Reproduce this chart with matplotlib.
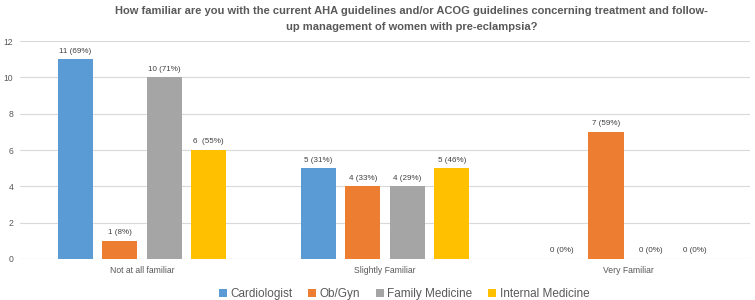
import numpy as np
import matplotlib
matplotlib.use("Agg")
import matplotlib.pyplot as plt

plt.rcParams['font.family'] = ['Liberation Sans', 'DejaVu Sans']

categories = ["Not at all familiar", "Slightly Familiar", "Very Familiar"]
series = ["Cardiologist", "Ob/Gyn", "Family Medicine", "Internal Medicine"]
colors = ["#5B9BD5", "#ED7D31", "#A5A5A5", "#FFC000"]
cardiologist = [11, 5, 0]
obgyn = [1, 4, 7]
family = [10, 4, 0]
internal = [6, 5, 0]
labels = [
    ["11 (69%)", "5 (31%)", "0 (0%)"],
    ["1 (8%)", "4 (33%)", "7 (59%)"],
    ["10 (71%)", "4 (29%)", "0 (0%)"],
    ["6  (55%)", "5 (46%)", "0 (0%)"],
]
values = [cardiologist, obgyn, family, internal]

fig = plt.figure(figsize=(7.55, 3.0), dpi=100)
ax = fig.add_axes([0.027, 0.137, 0.966, 0.726])

x = np.arange(len(categories))
step = 0.183
width = 0.145
for i, (vals, name, col) in enumerate(zip(values, series, colors)):
    pos = x + (i - 1.5) * step
    ax.bar(pos, vals, width=width, color=col, label=name, zorder=3)
    for p, v, t in zip(pos, vals, labels[i]):
        ax.text(p, v + 0.25, t, ha="center", va="bottom", fontsize=5.8, color="#404040")

ax.set_xlim(-0.5, 2.5)
ax.set_ylim(0, 12)
ax.set_yticks(range(0, 13, 2))
ax.set_xticks(x)
ax.set_xticklabels(categories)
ax.tick_params(axis="both", length=0, labelsize=6.2, colors="#595959")
ax.tick_params(axis="y", pad=5)
ax.tick_params(axis="x", pad=5)
ax.grid(axis="y", color="#d9d9d9", linewidth=0.8, zorder=0)
for s in ax.spines.values():
    s.set_visible(False)
ax.axhline(0, color="#d9d9d9", linewidth=0.8, zorder=1)

fig.suptitle("How familiar are you with the current AHA guidelines and/or ACOG guidelines concerning treatment and follow-\nup management of women with pre-eclampsia?",
             x=0.545, y=0.98, fontsize=8.0, fontweight="bold", color="#595959", linespacing=1.75)

fig.legend(loc="lower center", bbox_to_anchor=(0.535, -0.035), ncol=4, frameon=False,
           fontsize=8.5, handlelength=0.7, handleheight=0.7, handletextpad=0.3,
           columnspacing=1.3, labelcolor="#595959")

fig.savefig("out.png", dpi=100)
